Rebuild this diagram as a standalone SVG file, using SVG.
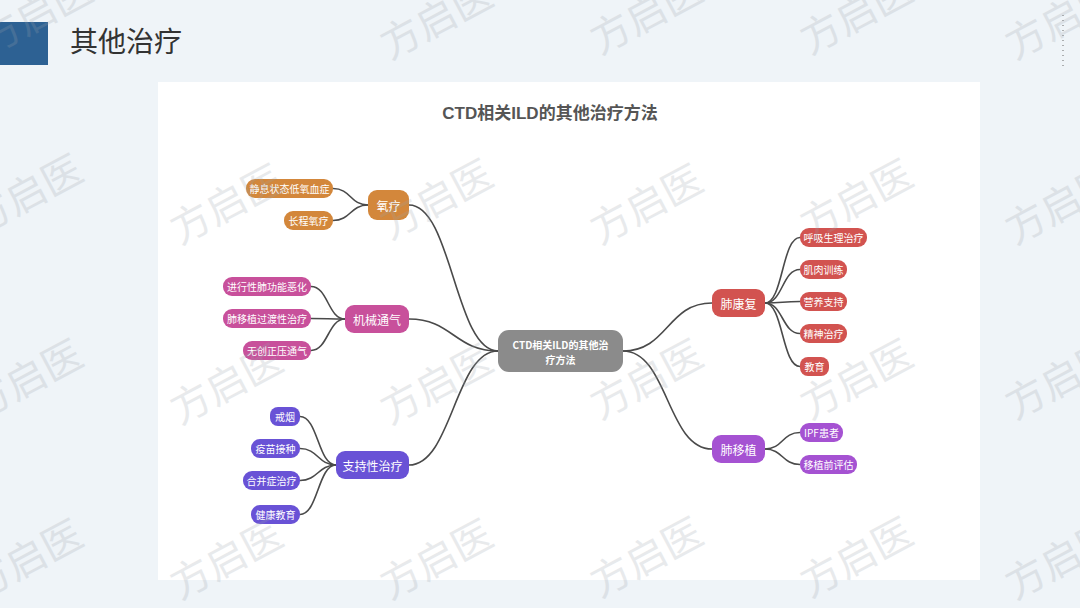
<svg xmlns="http://www.w3.org/2000/svg" width="1080" height="608" viewBox="0 0 1080 608">
<style>
.cjk{font-family:"Noto Sans CJK SC","Noto Sans",sans-serif}
.wm{font-family:"Noto Sans CJK SC",sans-serif;font-size:40px;fill:#9aa3ab;opacity:0.22}
.leaf{font-family:"Noto Sans CJK SC","Noto Sans",sans-serif;font-size:10px;fill:#fff;text-anchor:middle;dominant-baseline:central}
.br{font-family:"Noto Sans CJK SC","Noto Sans",sans-serif;font-size:12px;fill:#fff;text-anchor:middle;dominant-baseline:central}
.conn path{fill:none;stroke:#4a4a4a;stroke-width:1.6}
.o{fill:#d3873b}
.m{fill:#c8509b}
.s{fill:#6952d6}
.r{fill:#d25350}
.p{fill:#a552d2}
</style>
<rect x="0" y="0" width="1080" height="608" fill="#eff4f8"/>
<rect x="0" y="22" width="48" height="43" fill="#2d6193"/>
<text x="70" y="52" class="cjk" font-size="28" fill="#333">其他治疗</text>
<line x1="1063" y1="15" x2="1063" y2="70" stroke="#666" stroke-width="1" stroke-dasharray="1,4"/>
<rect x="158" y="82" width="822" height="498" fill="#ffffff"/>
<text x="550" y="119" text-anchor="middle" font-family="Liberation Sans,'Noto Sans CJK SC',sans-serif" font-weight="bold" font-size="17" fill="#555">CTD相关ILD的其他治疗方法</text>

<g class="conn">
<path d="M498,351 C455,351 452,205 409,205"/>
<path d="M498,351 C455,351 452,319 409,319"/>
<path d="M498,351 C455,351 452,465 409,465"/>
<path d="M623,351 C668,351 667,303 712,303"/>
<path d="M623,351 C668,351 667,449 712,449"/>
<path d="M333,188.5 C351,188.5 350,205 368,205"/>
<path d="M333,220.5 C351,220.5 350,205 368,205"/>
<path d="M311,286.5 C328,286.5 328,319 345,319"/>
<path d="M311,318.5 C328,318.5 328,319 345,319"/>
<path d="M311,350.5 C328,350.5 328,319 345,319"/>
<path d="M300,416.5 C318,416.5 318,465 336,465"/>
<path d="M300,448.5 C318,448.5 318,465 336,465"/>
<path d="M300,480.5 C318,480.5 318,465 336,465"/>
<path d="M300,514.5 C318,514.5 318,465 336,465"/>
<path d="M765,303 C783,303 782,237.5 800,237.5"/>
<path d="M765,303 C783,303 782,269.5 800,269.5"/>
<path d="M765,303 C783,303 782,301.5 800,301.5"/>
<path d="M765,303 C783,303 782,333.5 800,333.5"/>
<path d="M765,303 C783,303 782,366.5 800,366.5"/>
<path d="M765,449 C783,449 782,432.5 800,432.5"/>
<path d="M765,449 C783,449 782,464.5 800,464.5"/>
</g>

<g id="center">
<rect x="498" y="330" width="125" height="42" rx="11" fill="#8b8b8b"/>
<text x="560.5" y="344" class="leaf" font-weight="bold" font-size="11">CTD相关ILD的其他治</text>
<text x="560.5" y="359" class="leaf" font-weight="bold" font-size="11">疗方法</text>
</g>

<g id="oxygen"><rect x="368" y="190" width="41" height="30" rx="9" class="o"/><text x="388.5" y="205" class="br">氧疗</text></g>
<g id="o1"><rect x="246" y="179" width="87" height="19" rx="9" class="o"/><text x="289.5" y="188.5" class="leaf">静息状态低氧血症</text></g>
<g id="o2"><rect x="284" y="211" width="49" height="19" rx="9" class="o"/><text x="308.5" y="220.5" class="leaf">长程氧疗</text></g>

<g id="mech"><rect x="345" y="305" width="64" height="28" rx="9" class="m"/><text x="377" y="319" class="br">机械通气</text></g>
<g id="m1"><rect x="223" y="277" width="88" height="19" rx="9" class="m"/><text x="267" y="286.5" class="leaf">进行性肺功能恶化</text></g>
<g id="m2"><rect x="223" y="309" width="88" height="19" rx="9" class="m"/><text x="267" y="318.5" class="leaf">肺移植过渡性治疗</text></g>
<g id="m3"><rect x="243" y="341" width="68" height="19" rx="9" class="m"/><text x="277" y="350.5" class="leaf">无创正压通气</text></g>

<g id="support"><rect x="336" y="451" width="73" height="28" rx="9" class="s"/><text x="372.5" y="465" class="br">支持性治疗</text></g>
<g id="s1"><rect x="270" y="407" width="30" height="19" rx="8" class="s"/><text x="285" y="416.5" class="leaf">戒烟</text></g>
<g id="s2"><rect x="251" y="439" width="49" height="19" rx="9" class="s"/><text x="275.5" y="448.5" class="leaf">疫苗接种</text></g>
<g id="s3"><rect x="243" y="471" width="57" height="19" rx="9" class="s"/><text x="271.5" y="480.5" class="leaf">合并症治疗</text></g>
<g id="s4"><rect x="251" y="505" width="49" height="19" rx="9" class="s"/><text x="275.5" y="514.5" class="leaf">健康教育</text></g>

<g id="rehab"><rect x="712" y="289" width="53" height="28" rx="9" class="r"/><text x="738.5" y="303" class="br">肺康复</text></g>
<g id="r1"><rect x="800" y="228" width="67" height="19" rx="9" class="r"/><text x="833.5" y="237.5" class="leaf">呼吸生理治疗</text></g>
<g id="r2"><rect x="800" y="260" width="47" height="19" rx="9" class="r"/><text x="823.5" y="269.5" class="leaf">肌肉训练</text></g>
<g id="r3"><rect x="800" y="292" width="47" height="19" rx="9" class="r"/><text x="823.5" y="301.5" class="leaf">营养支持</text></g>
<g id="r4"><rect x="800" y="324" width="47" height="19" rx="9" class="r"/><text x="823.5" y="333.5" class="leaf">精神治疗</text></g>
<g id="r5"><rect x="800" y="357" width="29" height="19" rx="8" class="r"/><text x="814.5" y="366.5" class="leaf">教育</text></g>

<g id="transplant"><rect x="712" y="435" width="53" height="28" rx="9" class="p"/><text x="738.5" y="449" class="br">肺移植</text></g>
<g id="p1"><rect x="800" y="423" width="43" height="19" rx="9" class="p"/><text x="821.5" y="432.5" class="leaf">IPF患者</text></g>
<g id="p2"><rect x="800" y="455" width="57" height="19" rx="9" class="p"/><text x="828.5" y="464.5" class="leaf">移植前评估</text></g>

<g id="watermarks">
<text class="wm" transform="translate(-10,55) rotate(-28)">方启医</text>
<text class="wm" transform="translate(390,60) rotate(-28)">方启医</text>
<text class="wm" transform="translate(600,55) rotate(-28)">方启医</text>
<text class="wm" transform="translate(810,55) rotate(-28)">方启医</text>
<text class="wm" transform="translate(1015,60) rotate(-28)">方启医</text>
<text class="wm" transform="translate(-20,235) rotate(-28)">方启医</text>
<text class="wm" transform="translate(180,245) rotate(-28)">方启医</text>
<text class="wm" transform="translate(390,240) rotate(-28)">方启医</text>
<text class="wm" transform="translate(600,245) rotate(-28)">方启医</text>
<text class="wm" transform="translate(810,240) rotate(-28)">方启医</text>
<text class="wm" transform="translate(1015,245) rotate(-28)">方启医</text>
<text class="wm" transform="translate(-20,420) rotate(-28)">方启医</text>
<text class="wm" transform="translate(180,425) rotate(-28)">方启医</text>
<text class="wm" transform="translate(390,425) rotate(-28)">方启医</text>
<text class="wm" transform="translate(600,420) rotate(-28)">方启医</text>
<text class="wm" transform="translate(810,420) rotate(-28)">方启医</text>
<text class="wm" transform="translate(1015,420) rotate(-28)">方启医</text>
<text class="wm" transform="translate(-20,600) rotate(-28)">方启医</text>
<text class="wm" transform="translate(180,600) rotate(-28)">方启医</text>
<text class="wm" transform="translate(390,600) rotate(-28)">方启医</text>
<text class="wm" transform="translate(600,598) rotate(-28)">方启医</text>
<text class="wm" transform="translate(810,598) rotate(-28)">方启医</text>
<text class="wm" transform="translate(1015,600) rotate(-28)">方启医</text>
</g>
</svg>
